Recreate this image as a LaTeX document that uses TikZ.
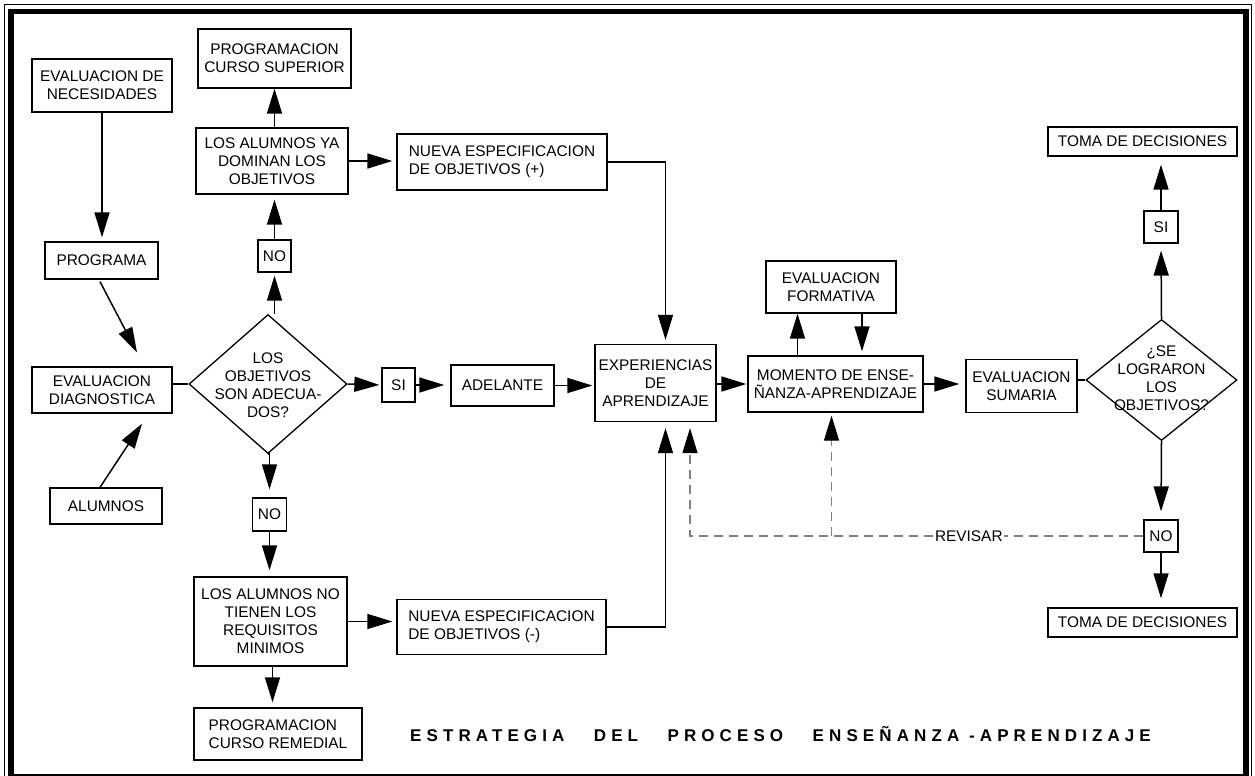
\documentclass[tikz,border=0pt]{standalone}
\usepackage{fontspec}
\setmainfont{Liberation Sans}
\newfontfamily\titlefont[LetterSpace=30]{Liberation Sans}
\usetikzlibrary{arrows.meta,calc,shapes.geometric}

\tikzset{
  box/.style={draw, line width=1.3pt, inner sep=2pt, align=center,
    font=\fontsize{15.4}{18}\selectfont},
  lbox/.style={box, align=left},
  decision/.style={draw, diamond, line width=1.3pt, inner sep=0pt},
  dtext/.style={align=center, inner sep=0pt, font=\fontsize{15.4}{18}\selectfont},
  arr/.style={-{Triangle[length=25pt,width=15pt]}, line width=1.5pt, shorten >=#1},
  arr/.default=3pt,
  link/.style={line width=1.5pt},
  revise/.style={draw=gray, line width=1.3pt, dash pattern=on 9pt off 6pt,
    -{Triangle[length=25pt,width=15pt,color=black]}, shorten >=#1},
  revise/.default=3pt,
}
\newcommand\wordgap{\hspace{29.5pt}}

\begin{document}
\begin{tikzpicture}[x=1pt,y=-1pt]
\useasboundingbox (0,0) rectangle (1255,776);

% double frame
\draw[line width=1pt] (4.5,4.5) rectangle (1251.5,790);
\draw[line width=5.5pt] (10.75,11.5) rectangle (1246,776.5);

% left column
\node[box, minimum width=140pt, minimum height=53pt] (nec) at (102,85.5) {EVALUACION DE\\NECESIDADES};
\node[box, minimum width=113pt, minimum height=37pt] (prog) at (101.5,260.5) {PROGRAMA};
\node[box, minimum width=140pt, minimum height=46pt] (diag) at (102,390) {EVALUACION\\DIAGNOSTICA};
\node[box, minimum width=112pt, minimum height=36pt] (alum) at (106,506) {ALUMNOS};

% first decision and its branches
\node[decision, minimum width=158pt, minimum height=139pt] (d1) at (268,384) {};
\node[dtext] (d1t) at (268,385) {LOS\\OBJETIVOS\\SON ADECUA-\\DOS?};

\node[box, minimum width=153pt, minimum height=59pt] (sup) at (274.5,58.5) {PROGRAMACION\\CURSO SUPERIOR};
\node[box, minimum width=152pt, minimum height=66pt] (ya) at (272,161) {LOS ALUMNOS YA\\DOMINAN LOS\\OBJETIVOS};
\node[box, minimum width=33pt, minimum height=32pt] (no1) at (274.5,256) {NO};

\node[box, minimum width=34pt, minimum height=33pt] (no2) at (269.5,514.5) {NO};
\node[box, minimum width=153pt, minimum height=89pt] (tnr) at (270.5,621.5) {LOS ALUMNOS NO\\TIENEN LOS\\REQUISITOS\\MINIMOS};
\node[lbox, minimum width=168pt, minimum height=52pt] (rem) at (278,734) {PROGRAMACION\\CURSO REMEDIAL};

\node[box, minimum width=33pt, minimum height=34pt] (si1) at (398.5,385) {SI};
\node[box, minimum width=103pt, minimum height=41pt] (adel) at (502.5,385.5) {ADELANTE};

\node[lbox, minimum width=210pt, minimum height=56pt] (nplus) at (502,162) {NUEVA ESPECIFICACION\\DE OBJETIVOS (+)};
\node[lbox, minimum width=209pt, minimum height=55pt] (nminus) at (501.5,627) {NUEVA ESPECIFICACION\\DE OBJETIVOS (-)};

% teaching loop
\node[box, minimum width=121pt, minimum height=77pt, inner sep=1pt] (exp) at (655.5,383) {EXPERIENCIAS\\DE\\APRENDIZAJE};
\node[box, minimum width=130pt, minimum height=52pt] (form) at (831,287) {EVALUACION\\FORMATIVA};
\node[box, minimum width=175pt, minimum height=56pt] (mom) at (835.5,384) {MOMENTO DE ENSE-\\ÑANZA-APRENDIZAJE};
\node[box, minimum width=111pt, minimum height=53pt] (sum) at (1021.5,386) {EVALUACION\\SUMARIA};

% final decision
\node[decision, minimum width=151pt, minimum height=121pt] (d2) at (1161.5,380) {};
\node[dtext] (d2t) at (1161.5,378) {¿SE\\LOGRARON\\LOS\\OBJETIVOS?};
\node[box, minimum width=34pt, minimum height=32pt] (si2) at (1161,227) {SI};
\node[box, minimum width=34pt, minimum height=32pt] (no3) at (1161,536) {NO};
\node[box, minimum width=189pt, minimum height=29pt] (ttop) at (1142.5,141.5) {TOMA DE DECISIONES};
\node[box, minimum width=189pt, minimum height=29pt] (tbot) at (1142.5,622.5) {TOMA DE DECISIONES};

% caption
\node[anchor=base west, inner sep=0pt, font=\titlefont\bfseries\fontsize{17}{19}\selectfont] (title) at (410,741.5)
  {ESTRATEGIA\wordgap DEL\wordgap PROCESO\wordgap ENSEÑANZA -APRENDIZAJE};

% connectors: diagnosis
\draw[arr=4pt] (nec.south) -- (nec.south |- prog.north);
\draw[arr=0pt] ($(prog.south)+(-1.5,2)$) -- ($(diag.north)+(35,-14)$);
\draw[arr=0pt] ($(alum.north)+(-6,0)$) -- ($(diag.south)+(40,10)$);
\draw[link] (diag.east |- d1.west) -- (d1.west);

% connectors: first decision
\draw[arr=3pt] (no1.south |- d1.north) -- (no1.south);
\draw[arr=5pt] (no1.north) -- (no1.north |- ya.south);
\draw[arr=0pt] (sup.south |- ya.north) -- (sup.south);
\draw[arr=4pt] (ya.east) -- (ya.east -| nplus.west);
\draw[link] (d1.south) -- (no2.north |- d1.south);
\draw[arr=8pt] (no2.north |- d1.south) -- (no2.north);
\draw[arr=6pt] (no2.south) -- (no2.south |- tnr.north);
\draw[arr=5pt] ($(tnr.south)+(2,0)$) -- ($(tnr.south |- rem.north)+(2,0)$);
\draw[arr=4pt] (tnr.east) -- (tnr.east -| nminus.west);
\draw[arr=2pt] (d1.east) -- (si1.west);
\draw[arr=6pt] (si1.east) -- (si1.east -| adel.west);
\draw[arr=2pt] (adel.east) -- (adel.east -| exp.west);
\draw[arr=4pt] (nplus.east) -| ($(exp.north)+(10,0)$);
\draw[arr=6pt] (nminus.east) -| ($(exp.south)+(10,0)$);

% connectors: teaching loop
\draw[arr=1pt] (exp.east |- mom.west) -- (mom.west);
\draw[arr=0pt] ($(mom.north)+(-38,0)$) -- ($(form.south)+(-33.5,0)$);
\draw[arr=4pt] ($(form.south)+(31,0)$) -- ($(mom.north)+(26.5,0)$);
\draw[arr=6pt] (mom.east) -- (mom.east -| sum.west);
\draw[link] (sum.east |- d2.west) -- (d2.west);

% connectors: final decision
\draw[arr=7pt] (d2.north) -- (si2.south);
\draw[arr=8pt] (si2.north) -- (ttop.south -| si2.north);
\draw[arr=8pt] (d2.south) -- (no3.north);
\draw[arr=9pt] (no3.south) -- (tbot.north -| no3.south);

% review loop
\coordinate (rvx) at ($(exp.south)+(34.5,0)$);
\coordinate (rv) at (no3.west -| rvx);
\draw[revise=6pt] (no3.west) -- node[pos=0.385, fill=white, inner sep=1pt, text=black,
    font=\fontsize{15.4}{18}\selectfont] (rev) {REVISAR} (rv) -- (rvx);
\coordinate (rv2) at ($(rv -| mom.south)+(-4,0)$);
\draw[revise=3pt] (rv2) -- ($(mom.south)+(-4,0)$);
\end{tikzpicture}
\end{document}
